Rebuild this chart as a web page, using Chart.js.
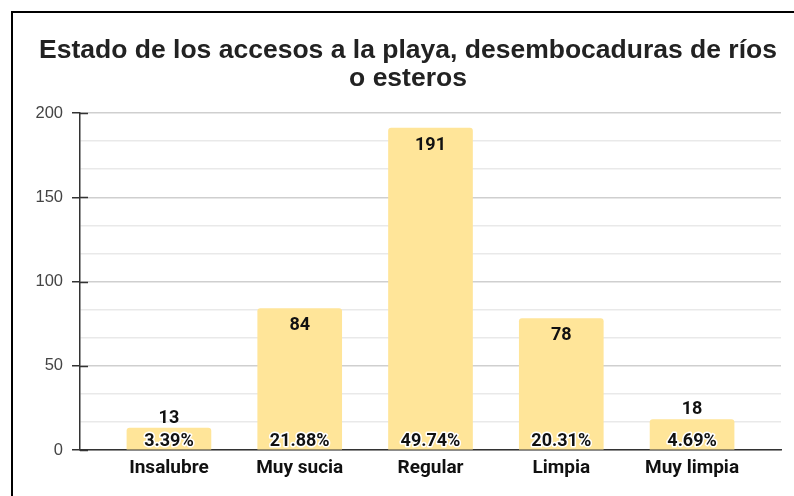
<!DOCTYPE html>
<html>
<head>
<meta charset="utf-8">
<script src="https://cdn.jsdelivr.net/npm/chart.js@4.4.0/dist/chart.umd.min.js"></script>
<style>
  html, body { margin: 0; background: #fff; }
  #wrap { position: relative; width: 794px; height: 496px; overflow: hidden; }
  #frame { position: absolute; left: 11px; top: 11px; width: 900px; height: 600px; border-left: 2px solid #000; border-top: 2px solid #000; }
  #c { position: absolute; left: 0; top: 0; }
</style>
</head>
<body>
<div id="wrap"><div id="frame"></div><canvas id="c" width="794" height="496"></canvas></div>
<script>
const categories = ["Insalubre", "Muy sucia", "Regular", "Limpia", "Muy limpia"];
const counts = [13, 84, 191, 78, 18];
const percents = ["3.39%", "21.88%", "49.74%", "20.31%", "4.69%"];
const yTicks = [0, 50, 100, 150, 200];

const BAR = "#ffe599";
const DARK = "#333";
const LABEL_FONT = "bold 18px Roboto, 'Liberation Sans', sans-serif";
const isMajor = (v) => Math.abs(v / 50 - Math.round(v / 50)) < 1e-6;

// value labels + percent labels, plus the short tick stubs right of the y axis
const barLabels = {
  id: "barLabels",
  afterDatasetsDraw(chart) {
    const ctx = chart.ctx;
    const y0 = chart.scales.y.getPixelForValue(0);
    ctx.save();
    ctx.textAlign = "center";
    ctx.textBaseline = "middle";
    ctx.font = LABEL_FONT;
    chart.getDatasetMeta(0).data.forEach((bar, i) => {
      const h = y0 - bar.y;
      ctx.fillStyle = "#111";
      ctx.fillText(counts[i], bar.x, h < 40 ? bar.y - 10 : bar.y + 17);
      ctx.lineWidth = 3;
      ctx.lineJoin = "round";
      ctx.strokeStyle = "#fff";
      ctx.strokeText(percents[i], bar.x, y0 - 9);
      ctx.fillText(percents[i], bar.x, y0 - 9);
    });
    const ys = chart.scales.y;
    ctx.strokeStyle = DARK;
    ctx.lineWidth = 1.5;
    yTicks.forEach((v) => {
      const y = Math.round(ys.getPixelForValue(v)) + 0.5;
      ctx.beginPath();
      ctx.moveTo(ys.right, y);
      ctx.lineTo(ys.right + 8, y);
      ctx.stroke();
    });
    ctx.restore();
  },
};

new Chart(document.getElementById("c"), {
  type: "bar",
  data: {
    datasets: [{
      data: counts.map((v, i) => ({ x: i, y: v })),
      backgroundColor: BAR,
      borderRadius: 3,
      borderSkipped: "bottom",
      barThickness: 84,
    }],
  },
  options: {
    responsive: false,
    animation: false,
    layout: { padding: { left: 35, right: 13, top: 0, bottom: 0 } },
    plugins: {
      legend: { display: false },
      tooltip: { enabled: false },
      title: {
        display: true,
        text: ["Estado de los accesos a la playa, desembocaduras de ríos", "o esteros"],
        color: "#222",
        font: { family: "'Liberation Sans', Arial, sans-serif", size: 26.5, weight: "bold", lineHeight: "28px" },
        padding: { top: 37, bottom: 20 },
      },
    },
    scales: {
      x: {
        type: "linear",
        offset: false,
        min: -0.68,
        max: 4.68,
        afterBuildTicks: (s) => { s.ticks = categories.map((_, i) => ({ value: i })); },
        afterFit: (s) => { s.height = 46; },
        grid: { display: false, drawTicks: false },
        border: { display: true, color: DARK, width: 1.5 },
        ticks: {
          autoSkip: false,
          maxRotation: 0,
          padding: 7,
          color: "#111",
          font: { family: "Roboto, 'Liberation Sans', sans-serif", size: 19, weight: "bold" },
          callback: (v) => categories[v],
        },
      },
      y: {
        min: 0,
        max: 200,
        afterFit: (s) => { s.width = 45; },
        afterBuildTicks: (s) => { s.ticks = [0, 1, 2, 3, 4, 5, 6, 7, 8, 9, 10, 11, 12].map((k) => ({ value: k * 50 / 3 })); },
        grid: {
          color: (c) => (isMajor(c.tick.value) ? "#cfcfcf" : "#e9e9e9"),
          tickColor: (c) => (isMajor(c.tick.value) ? DARK : "rgba(0,0,0,0)"),
          tickLength: 8,
          lineWidth: 1.5,
        },
        border: { display: true, color: DARK, width: 1.5 },
        ticks: {
          autoSkip: false,
          padding: 9,
          color: "#444",
          font: { family: "'Liberation Sans', Arial, sans-serif", size: 16.5 },
          callback: (v) => (isMajor(v) ? Math.round(v) : ""),
        },
      },
    },
  },
  plugins: [barLabels],
});
</script>
</body>
</html>
